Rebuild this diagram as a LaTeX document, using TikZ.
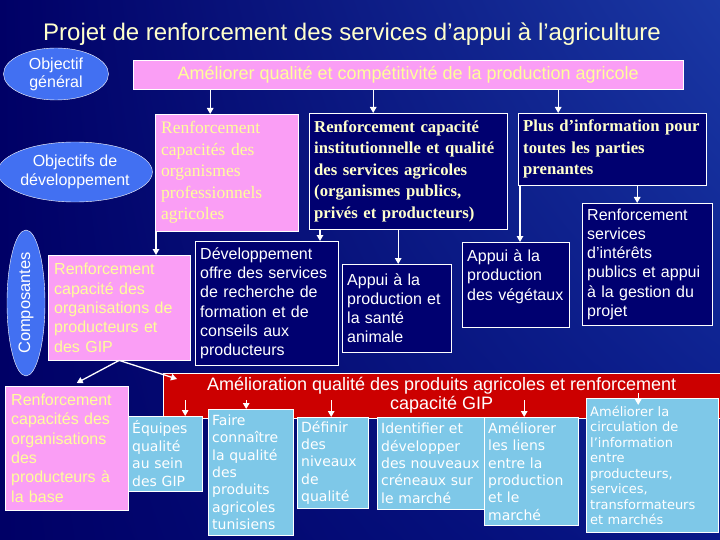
\documentclass[tikz,border=0pt]{standalone}
\usepackage{fontspec}
\setmainfont{Liberation Serif}
\setsansfont{Liberation Sans}
\newfontfamily\verdana{DejaVu Sans}
\usepackage{xcolor}
\usetikzlibrary{positioning,arrows.meta,shapes.geometric,shadings}
\definecolor{bgdark}{HTML}{000066}
\definecolor{bgmid}{HTML}{081888}
\definecolor{bglight}{HTML}{1A38A4}
\definecolor{ellblue}{HTML}{4270F2}
\definecolor{pinkfill}{HTML}{FA9EF5}
\definecolor{pinktext}{HTML}{FFFF99}
\definecolor{navyfill}{HTML}{000070}
\definecolor{paleyellow}{HTML}{FFFFCC}
\definecolor{redfill}{HTML}{CC0000}
\definecolor{skyfill}{HTML}{7EC8E8}

\begin{document}
\begin{tikzpicture}[x=1pt,y=-1pt,
    ell/.style={ellipse,draw=white,fill=ellblue,text=white,align=center,inner sep=0pt,font=\sffamily\fontsize{16}{18}\selectfont},
    pinkbox/.style={draw=white,fill=pinkfill,text=pinktext,anchor=north west,align=left,inner xsep=6pt,inner ysep=3pt},
    navybox/.style={draw=white,fill=navyfill,anchor=north west,align=left,inner xsep=5pt,inner ysep=3pt},
    skybox/.style={draw=white,fill=skyfill,text=white,anchor=north west,align=left,inner xsep=4pt,inner ysep=2pt,font=\verdana\fontsize{14}{17.4}\selectfont},
    serif/.style={font=\rmfamily\fontsize{17.5}{21.5}\selectfont},
    boldserif/.style={font=\rmfamily\bfseries\fontsize{16.7}{21.5}\selectfont,text=paleyellow},
    sans/.style={font=\sffamily\fontsize{16}{19.3}\selectfont},
    arr/.style={-{Triangle[length=6pt,width=6.5pt]},white,line width=1.3pt}
  ]
  \useasboundingbox (0,0) rectangle (720,540);
  \shade[upper left=bgdark,upper right=bglight,lower left=bgdark,lower right=bgmid] (0,0) rectangle (720,540);

  % titre et objectifs
  \node[font=\sffamily\fontsize{24}{27}\selectfont,text=paleyellow] (title) at (352,34) {Projet de renforcement des services d’appui à l’agriculture};
  \node[ell,minimum width=105,minimum height=52] (gen) at (56,74) {Objectif\\général};
  \node[pinkbox,align=center,minimum width=550,minimum height=29,font=\sffamily\fontsize{18}{20}\selectfont] (amel) at (133,60) {Améliorer qualité et compétitivité de la production agricole};
  \node[ell,minimum width=145,minimum height=60,font=\sffamily\fontsize{16}{18.5}\selectfont] (devobj) at (75,172) {Objectifs de\\développement};

  \node[pinkbox,serif,minimum width=143,minimum height=117,text width=131pt] (orgpro) at (155,114) {Renforcement\\capacités des\\organismes\\professionnels\\agricoles};
  \node[navybox,boldserif,minimum width=198,minimum height=116,text width=188pt] (inst) at (309,113) {Renforcement capacité\\institutionnelle et qualité\\des services agricoles\\(organismes publics,\\privés et producteurs)};
  \node[navybox,boldserif,minimum width=188,minimum height=72,text width=178pt] (info) at (518,113) {Plus d’information pour\\toutes les parties\\prenantes};

  % composantes
  \node[ell,rotate=90,minimum width=146,minimum height=38,font=\sffamily\fontsize{16.5}{18}\selectfont] (comp) at (26,303) {Composantes};
  \node[pinkbox,sans,minimum width=142,minimum height=105,text width=130pt] (orgprod) at (48,255) {Renforcement\\capacité des\\organisations de\\producteurs et\\des GIP};
  \node[navybox,sans,text=white,minimum width=143,minimum height=124,text width=133pt] (dev) at (195,241) {Développement\\offre des services\\de recherche de\\formation et de\\conseils aux\\producteurs};
  \node[navybox,sans,text=white,minimum width=109,minimum height=88,text width=99pt] (anim) at (342,264) {Appui à la\\production et\\la santé\\animale};
  \node[navybox,sans,text=white,minimum width=107,minimum height=85,text width=97pt] (veg) at (462,242) {Appui à la\\production\\des végétaux\\~};
  \node[navybox,sans,text=white,minimum width=130,minimum height=122,text width=120pt] (serv) at (582,203) {Renforcement\\services\\d’intérêts\\publics et appui\\à la gestion du\\projet};

  % activites
  \node[draw=white,fill=redfill,text=white,anchor=north west,align=center,minimum width=557,minimum height=45,font=\sffamily\fontsize{18}{19}\selectfont] (qual) at (163,373) {Amélioration qualité des produits agricoles et renforcement\\capacité GIP};
  \node[pinkbox,sans,minimum width=123,minimum height=124,text width=111pt] (base) at (5,386) {Renforcement\\capacités des\\organisations\\des\\producteurs à\\la base};
  \node[skybox,minimum width=74,minimum height=75,text width=66pt] (equ) at (128,416) {Équipes\\qualité\\au sein\\des GIP};
  \node[skybox,minimum width=85,minimum height=126,text width=77pt] (faire) at (208,409) {Faire\\connaître\\la qualité\\des\\produits\\agricoles\\tunisiens};
  \node[skybox,minimum width=71,minimum height=91,text width=63pt] (def) at (297,417) {Définir\\des\\niveaux\\de\\qualité};
  \node[skybox,minimum width=107,minimum height=92,text width=99pt] (ident) at (377,417) {Identifier et\\développer\\\mbox{des nouveaux}\\créneaux sur\\le marché};
  \node[skybox,minimum width=94,minimum height=108,text width=86pt] (lien) at (484,417) {Améliorer\\les liens\\entre la\\production\\et le\\marché};
  \node[skybox,minimum width=132,minimum height=134,text width=124pt,font=\verdana\fontsize{13}{15.5}\selectfont] (circ) at (586,398) {Améliorer la\\circulation de\\l’information\\entre\\producteurs,\\services,\\transformateurs\\et marchés};

  % fleches
  \draw[arr] ([xshift=-16.5pt]orgpro.north |- amel.south) -- ([xshift=-16.5pt]orgpro.north);
  \draw[arr] ([xshift=-35pt]inst.north |- amel.south) -- ([xshift=-35pt]inst.north);
  \draw[arr] ([xshift=-54pt]info.north |- amel.south) -- ([xshift=-54pt]info.north);
  \draw[arr] ([xshift=1pt]orgpro.south west) -- ([xshift=1pt]orgpro.south west |- orgprod.north);
  \draw[arr] ([xshift=11pt]inst.south west) -- ([xshift=11pt]inst.south west |- dev.north);
  \draw[arr] ([xshift=-10pt]inst.south) -- ([xshift=-10pt]inst.south |- anim.north);
  \draw[arr] ([xshift=2pt]info.south west) -- ([xshift=2pt]info.south west |- veg.north);
  \draw[arr] ([xshift=25pt]info.south) -- ([xshift=25pt]info.south |- serv.north);
  \draw[arr] (orgprod.south) -- ([xshift=10pt,yshift=3pt]base.north);
  \draw[arr] (orgprod.south) -- ([xshift=14pt,yshift=-6pt]qual.north west);
  \draw[arr] ([xshift=20pt,yshift=16pt]equ.north) -- ([xshift=20pt]equ.north);
  \draw[arr] ([xshift=-4.5pt,yshift=9pt]faire.north) -- ([xshift=-4.5pt]faire.north);
  \draw[arr] ([xshift=-1.5pt,yshift=17pt]def.north) -- ([xshift=-1.5pt]def.north);
  \draw[arr] ([xshift=-7pt,yshift=17pt]lien.north) -- ([xshift=-7pt]lien.north);
  \draw[arr] ([xshift=-14pt,yshift=5pt]circ.north) -- ([xshift=-14pt,yshift=-7pt]circ.north);
\end{tikzpicture}
\end{document}
